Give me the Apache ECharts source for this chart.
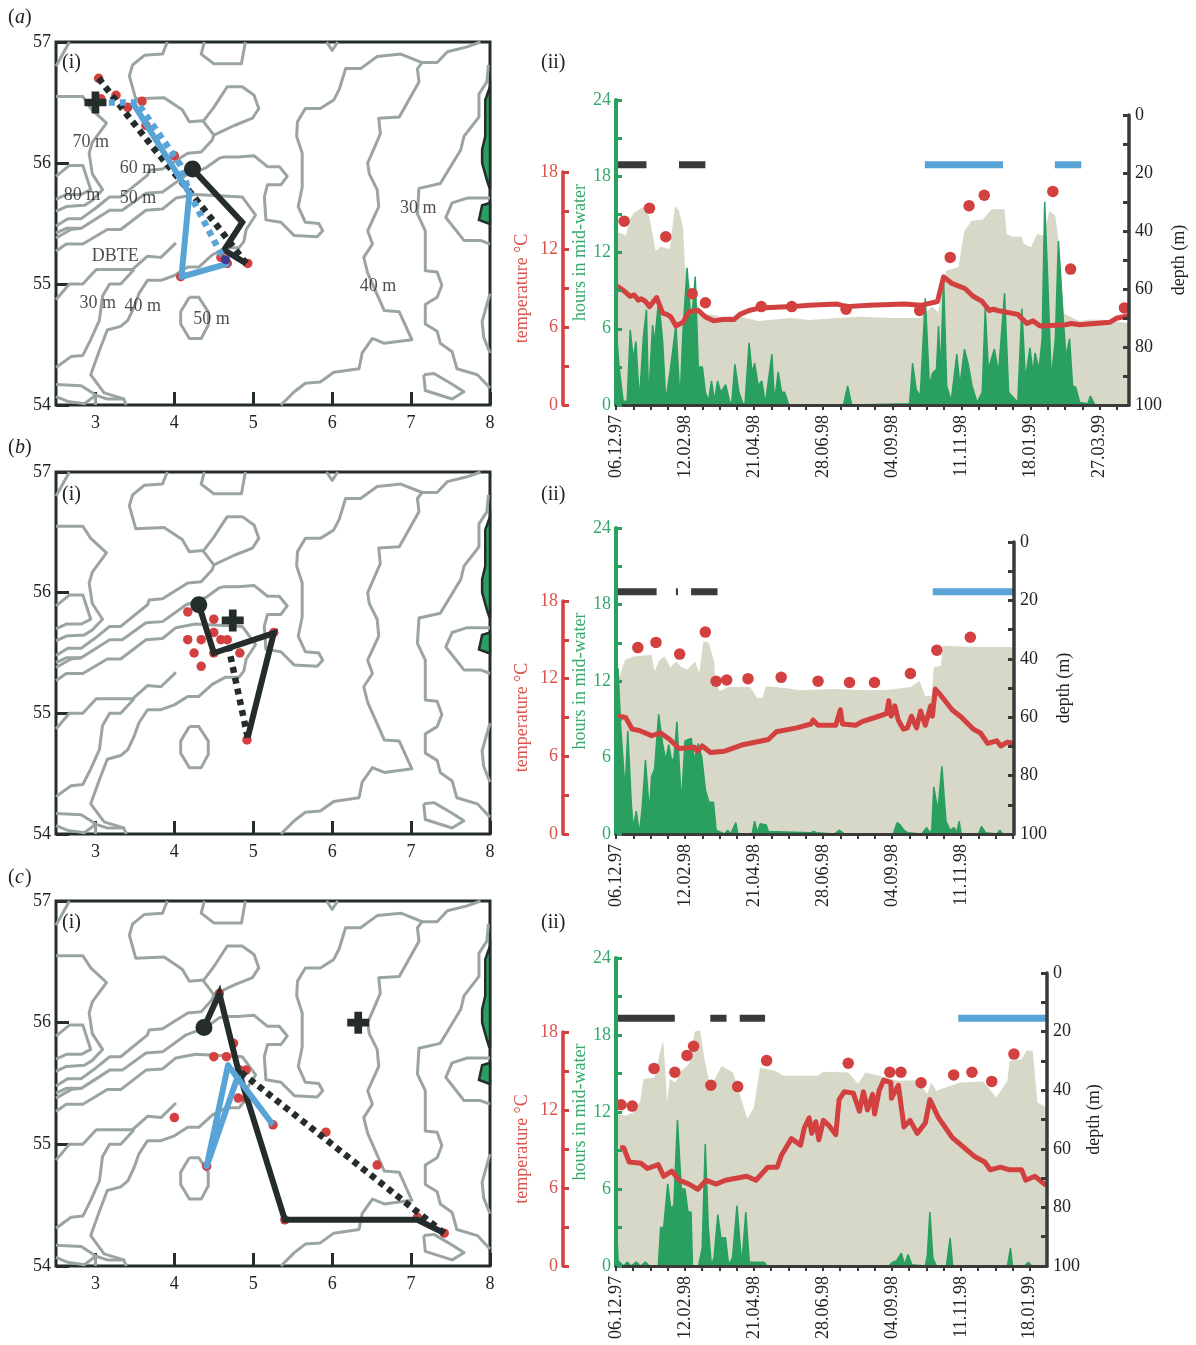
<!DOCTYPE html>
<html><head><meta charset="utf-8">
<style>html,body{margin:0;padding:0;background:#fff}#c{width:1196px;height:1345px}</style>
<script src="https://cdn.jsdelivr.net/npm/echarts@6/dist/echarts.min.js"></script>
</head><body><div id="c"></div>
<script>
// ---------- bathymetry contours [lon, lat] ----------
const cCorner=[[2.5,56.8],[2.67,57]];
const cA=[[2.5,55.89],[2.67,55.98],[2.84,55.98],[2.94,55.78],[2.82,55.74],[2.63,55.74],[2.5,55.7]];
const cB=[[2.5,56.55],[2.84,56.55],[2.94,56.45],[3.14,56.33],[2.96,56.17],[2.92,56.08],[2.96,55.91],[3.09,55.78],[2.96,55.69],[2.86,55.65],[2.63,55.64],[2.5,55.6]];
const cC=[[2.5,55.48],[2.65,55.54],[2.82,55.54],[3.01,55.63],[3.18,55.72],[3.32,55.72],[3.66,55.9],[3.68,55.94],[3.85,55.95],[4.17,56.08],[4.34,56.09],[4.48,56.19],[4.5,56.23],[4.36,56.35],[4.19,56.34],[4.1,56.44],[3.87,56.54],[3.51,56.53],[3.43,56.72],[3.47,56.81],[3.62,56.89],[3.85,56.9],[3.91,57]];
const cBlob=[[4.36,56.34],[4.5,56.46],[4.67,56.63],[4.86,56.63],[5.01,56.56],[5.07,56.45],[4.99,56.37],[4.76,56.31],[4.5,56.23]];
const cD=[[2.5,55.42],[2.63,55.46],[2.82,55.46],[3.18,55.61],[3.34,55.61],[3.64,55.75],[3.85,55.76],[4.15,55.9],[4.4,55.96],[4.57,56.04],[4.63,56.05],[4.8,56.05],[5.01,56.06],[5.18,55.97],[5.33,55.97],[5.43,55.89],[5.35,55.82],[5.18,55.82],[5.14,55.72],[5.16,55.53],[5.35,55.51],[5.52,55.4],[5.81,55.39],[5.88,55.44],[5.83,55.5],[5.66,55.51],[5.57,55.64],[5.62,55.8],[5.62,56.08],[5.55,56.22],[5.56,56.34],[5.66,56.45],[5.85,56.45],[6.02,56.52],[6.09,56.61],[6.17,56.78],[6.36,56.78],[6.57,56.88],[6.87,56.9],[7.14,56.83],[7.33,56.83],[7.46,56.92],[7.71,56.96],[7.88,57]];
const cE=[[2.5,55.38],[2.69,55.45],[2.82,55.46]];
const cF=[[2.5,55.27],[2.63,55.33],[2.84,55.33],[3.15,55.45],[3.32,55.45],[3.64,55.61],[3.85,55.62],[4.02,55.71],[4.27,55.74],[4.86,55.72],[5.03,55.57],[4.91,55.45],[4.88,55.35],[4.82,55.3],[4.65,55.3],[4.48,55.24],[4.31,55.14],[4.17,55.14],[4.0,55.07],[3.83,55.03],[3.66,55.03],[3.55,54.92],[3.49,54.81],[3.41,54.7],[3.32,54.65],[3.15,54.62],[3.05,54.45],[2.94,54.25],[3.11,54.1],[3.36,54.05],[3.39,54]];
const cG=[[4.02,55.34],[3.83,55.22],[3.66,55.23],[3.47,55.12],[3.01,55.12],[2.84,55],[2.67,55],[2.5,54.87]];
const cH=[[3.49,55.12],[3.32,55],[3.18,55],[3.09,54.9],[3.05,54.7],[2.94,54.54],[2.84,54.41],[2.69,54.4],[2.5,54.31]];
const cOval=[[4.19,54.89],[4.31,54.89],[4.43,54.77],[4.43,54.66],[4.34,54.55],[4.19,54.55],[4.08,54.67],[4.08,54.77],[4.19,54.89]];
const cTop=[[4.38,57],[4.34,56.9],[4.5,56.82],[4.85,56.82],[4.9,57]];
const cVee=[[5.93,57],[6,56.93],[6.07,57]];
const cR1=[[7.14,56.83],[7.08,56.78],[7.1,56.67],[6.85,56.38],[6.59,56.37],[6.61,56.24],[6.45,56],[6.47,55.91],[6.57,55.78],[6.59,55.64],[6.45,55.44],[6.51,55.33],[6.4,55.22],[6.45,55.09],[6.66,54.78],[6.85,54.77],[7.01,54.54],[6.66,54.51],[6.51,54.55],[6.38,54.43],[6.34,54.3],[6.02,54.27],[5.85,54.19],[5.66,54.18],[5.52,54.11],[5.35,54]];
const cR2=[[7.98,56.81],[7.96,56.67],[7.86,56.57],[7.86,56.38],[7.67,56.22],[7.63,56.11],[7.37,55.83],[7.1,55.79],[7.08,55.58],[7.18,55.44],[7.18,55.11],[7.33,55.1],[7.39,54.99],[7.33,54.89],[7.18,54.83],[7.18,54.67],[7.33,54.61],[7.37,54.51],[7.52,54.44],[7.58,54.3],[7.84,54.25],[8,54.14]];
const cR3=[[8,55.71],[7.71,55.71],[7.52,55.67],[7.44,55.55],[7.67,55.36],[7.88,55.36],[8,55.33]];
const cR4=[[8,54.92],[7.9,54.69],[7.92,54.56],[8,54.43]];
const cIsle=[[7.16,54.25],[7.29,54.26],[7.5,54.18],[7.67,54.11],[7.52,54.05],[7.18,54.12],[7.16,54.25]];
const cLow1=[[2.5,54.17],[2.82,54.16],[3.01,54.08],[3.15,54.05],[3.36,54.05]];
const cLow2=[[2.5,54.07],[2.65,54.03],[2.86,54.01],[3,54.08],[3,54]];
const contours=[cCorner,cA,cB,cC,cBlob,cD,cE,cF,cG,cH,cOval,cTop,cVee,cR1,cR2,cR3,cR4,cIsle,cLow1,cLow2];
const land1=[[8,56.63],[7.94,56.52],[7.94,56.22],[7.9,56.11],[7.9,56],[7.96,55.86],[7.99,55.8],[8,55.8]];
const land2=[[7.9,55.65],[7.86,55.53],[7.98,55.5],[8,55.5],[8,55.67]];
const depthLabels=[['70 m',2.94,56.17],['60 m',3.54,55.96],['80 m',2.83,55.73],['50 m',3.54,55.71],['DBTE',3.25,55.23],['30 m',3.03,54.84],['40 m',3.6,54.82],['50 m',4.47,54.71],['30 m',7.09,55.63],['40 m',6.58,54.98]];

// ---------- tracks [lon, lat] ----------
const aPos=[[3.04,56.7],[3.26,56.56],[3.07,56.53],[3.41,56.46],[3.59,56.51],[3.64,56.31],[4,56.06],[4.08,55.06],[4.67,55.17],[4.93,55.17],[4.59,55.22]];
const aBlackSolid=[[4.23,55.95],[4.86,55.51],[4.63,55.28],[4.91,55.17]];
const aBlackDash=[[3.04,56.7],[3.41,56.39],[3.79,56.08],[4.25,55.72],[4.52,55.5],[4.91,55.17]];
const aBlueSolid=[[3.47,56.5],[4.19,55.75],[4.09,55.06],[4.69,55.17]];
const aBlueDash=[[3.03,56.5],[3.53,56.5],[4.08,55.98],[4.19,55.75],[4.59,55.25],[4.66,55.2]];
const aCross=[3,56.5];
const bPos=[[4.17,55.84],[4.5,55.78],[4.5,55.67],[4.17,55.61],[4.34,55.61],[4.59,55.61],[4.67,55.61],[4.25,55.5],[4.5,55.5],[4.83,55.5],[4.34,55.39],[5.26,55.67],[4.92,54.78]];
const bBlackSolid=[[4.31,55.9],[4.5,55.5],[5.26,55.665],[4.93,54.8]];
const bBlackDash=[[4.93,54.8],[4.67,55.6]];
const bCross=[4.74,55.77];
const cPos=[[4.57,56.24],[4.75,55.83],[4.5,55.72],[4.66,55.72],[4.83,55.61],[4.91,55.61],[4.81,55.38],[4.91,55.38],[4,55.22],[5.92,55.1],[6.57,54.83],[5.25,55.16],[4.41,54.82],[5.4,54.38],[7.08,54.4],[7.42,54.27]];
const cBlackSolid=[[4.375,55.96],[4.57,56.24],[4.81,55.61],[5.4,54.38],[7.08,54.38],[7.42,54.27]];
const cBlackDash=[[7.42,54.27],[4.83,55.6]];
const cBlueSolid=[[5.25,55.16],[4.68,55.65],[4.41,54.82],[4.81,55.57]];
const cCross=[6.33,56];

// ---------- time series, [days since 06.12.97, value] ----------
const dateLabels=['06.12.97','12.02.98','21.04.98','28.06.98','04.09.98','11.11.98','18.01.99','27.03.99'];
const aDepth=[[0,42],[3,40.5],[10,41.6],[13,36.5],[18,33.6],[27,31.6],[33,35.3],[39,47],[44,45.4],[53,46.2],[58,31.4],[62,33],[66,38.8],[68,52.5],[75,61.6],[81,66],[88,68.4],[103,69.6],[120,69.3],[140,71],[173,70],[190,70.7],[218,70],[240,69.6],[271,70],[300,70],[311,66],[317,68],[325,53.6],[337,52.5],[343,40],[350,36.5],[361,36],[370,32.5],[382.5,32.5],[384.5,41],[390.5,42],[399.5,42],[401.5,44.5],[408.5,45.6],[414.5,41],[421.5,41.6],[426.5,33],[432.5,34.8],[436.5,45.6],[440.5,68.4],[449.5,70],[456.5,71],[466.5,70.5],[482.5,70.7],[505,71.8]];
const aTemp=[[1,9.2],[8,8.8],[14,8.4],[18,8.5],[22,8.1],[25,8.2],[29,8],[33,7.6],[40,8.3],[46,7.1],[50,7],[54,6.8],[59,6.1],[66,6.4],[72,7.2],[78,7.3],[81,7.3],[88,6.8],[96,6.5],[105,6.6],[116,6.6],[122,7],[131,7.3],[142,7.5],[173,7.6],[190,7.7],[218,7.8],[227,7.6],[249,7.7],[284,7.8],[300,7.7],[316.5,8],[322.5,9.9],[330.5,9.4],[343.5,9],[351.5,8.4],[360.5,8],[367.5,7.3],[371.5,7.4],[375.5,7.3],[395.5,7],[404.5,6.3],[410.5,6.5],[417.5,6.1],[442.5,6.2],[448.5,6.3],[456.5,6.2],[486.5,6.4],[492.5,6.7],[505,6.9]];
const aHours=[[0,6.2],[3,3],[7,.3],[11,.3],[14,5.9],[17,3.6],[19.6,5],[23,.3],[27,5.4],[30,7.5],[32,.3],[36,6.3],[38,4.9],[42,8.3],[46,4.9],[49,.3],[53,2.5],[59,6.3],[63,.3],[66,5.9],[70,10.8],[74,6.2],[78,10.1],[81,3],[85,3],[88,1],[91,.3],[94,1.9],[97,.3],[100,1.9],[103,1],[108,1.6],[112,.2],[114,.2],[117,3.2],[121,1],[125,.1],[127,.1],[131,4.9],[134,2.5],[136.5,3.3],[140,1.5],[143.5,1.9],[147,.1],[153.5,4],[156,.2],[159.6,2.6],[163,1],[166,1],[170,0],[224,0],[228,1.5],[232,0],[289,.1],[292,3.3],[295.5,1.2],[299.5,.7],[304.5,8.4],[308.5,1.5],[311.5,2.5],[315.5,2.8],[317.5,6.2],[319.5,2.5],[322.5,9.9],[325.5,1.5],[330,.3],[335.5,4],[338.5,1.5],[343,4.4],[346.5,3.3],[350.5,1.5],[355.5,.2],[360.5,1],[363.5,7.6],[366.5,2.8],[372.5,4.4],[376.5,2.5],[382.5,8.8],[386.5,1],[395.5,.2],[399.5,7.6],[403,2],[407.5,4.5],[410.5,2.5],[412.5,4.1],[416.5,2.8],[419.5,5.2],[422,16],[424.5,10.9],[428.5,2],[432.5,5.2],[435.5,12.9],[437.5,10.4],[440.5,6.5],[443,3.8],[446.5,5.2],[449.5,1.5],[452.5,1.4],[456.5,.2],[464.5,.1],[467,.7],[471.5,0],[505,0]];
const aDots=[[8,14.2],[33,15.2],[49,13],[75,8.6],[88,7.9],[143,7.6],[173,7.6],[226.5,7.4],[299,7.3],[329,11.4],[347.5,15.4],[362.5,16.2],[430,16.5],[447.5,10.5],[500.5,7.5]];
const aBlack=[[0,30],[62,88]];
const aBlue=[[304,381],[432,458]];

const bDepth=[[0,49],[3.5,46],[9,40.3],[17.6,39.2],[35,38.6],[38,44.3],[43,40.3],[48,39.2],[53.5,43],[59,40.9],[65,43],[70.4,43.7],[78,40.9],[82,44.9],[86,34],[91.5,34.6],[97,41.4],[97.5,47],[102,51],[111,49.7],[132,49.7],[139,53.4],[144,53.4],[148,49.4],[167,50],[180,50.8],[213,50.3],[248,50.8],[269,50.6],[290.5,49.7],[299,47.5],[304.6,52.9],[311,52.6],[313,43],[320,42.4],[322,35.5],[354,36],[389,36],[392,37]];
const bTemp=[[2,9.1],[9.5,9],[16,8.1],[23,8],[35,7.6],[44,7.8],[53,7.3],[62,6.6],[77.5,6.7],[80,6.4],[85,6.8],[93,6.3],[107,6.4],[125,6.9],[150,7.3],[158,7.9],[178,8.2],[192,8.5],[194,8.8],[199,8.4],[216.5,8.4],[221,9.6],[223,8.5],[236,8.4],[243,8.7],[255,9],[266.5,9.3],[268.7,10.3],[271,9.1],[274.6,9.9],[278,8.8],[283,8.1],[287,8.2],[291,9.1],[296,8.2],[300,9.5],[304.6,8.4],[310,9.9],[311.6,9.1],[314.5,11.2],[320,10.7],[331,9.6],[340.5,9],[352,8.1],[359,7.8],[366,7],[375,7.2],[379,6.8],[385.6,7.1],[392,7]];
const bHours=[[0,10],[2,13],[4.6,8.4],[9,3.4],[11.6,8.1],[15,2.4],[17,.5],[20,1.8],[23,0],[25.7,2],[29,5.8],[33,1.6],[35,4.5],[38,5.1],[42,9.4],[46,7],[49,5.8],[52,7],[54.6,5.8],[57,5.9],[60,8.8],[64.4,2.4],[68,7.3],[74,7.5],[77.5,5.8],[81,7.1],[84.5,6],[88,3.5],[91.5,2.5],[96,2.5],[98.6,.3],[107,0],[110,.3],[113,0],[118,.9],[120,0],[134,0],[136.6,1],[139,.1],[142,.8],[148,.7],[150,.2],[192,.1],[195,.2],[197,.1],[215,0],[220,.3],[225,0],[273,0],[277,.9],[280,.7],[283.5,.3],[287,.1],[301,0],[306,.5],[309,.1],[311,.3],[313,3.7],[317,1.8],[321,5.3],[325,1],[329,.3],[333,.5],[335.6,.1],[338,1],[340,0],[357,0],[360,.6],[364,.1],[375,0],[378,.3],[381,0],[392,0]];
const bDots=[[21.5,14.4],[39.4,14.8],[62.7,13.9],[88,15.6],[98.6,11.8],[109,11.9],[130,12],[162.7,12.1],[199,11.8],[230,11.7],[254.6,11.7],[290,12.4],[316,14.2],[349,15.2]];
const bBlack=[[0,40],[59,61],[74,100]];
const bBlue=[[312,392]];

const cDepth=[[0,48],[9.5,48.7],[17,47.6],[24,43.6],[27,36.2],[38,35.7],[43.6,26.6],[46.6,23],[49,35.7],[50.4,44.2],[53,36.2],[58.7,37.4],[64.4,33.4],[72,31.1],[77.7,20],[83,19.6],[87,28.9],[92.8,38.5],[98.5,35.7],[104,31.7],[115.5,34],[123,42.5],[129.5,49.8],[136,45.9],[142,32.3],[157,33.4],[165,35.1],[199,35.1],[204.5,33.7],[229,34],[238.6,37.9],[246,34],[259.5,35.1],[265,35.7],[278,36.8],[297,36.6],[307,41.3],[310.6,37.4],[316,40.2],[339,37.4],[362,37],[375,42.5],[386,36.8],[388,30],[400,29.4],[405,26.4],[411,26.6],[415.5,44.2],[425,45.9]];
const cTemp=[[4,9.1],[7.6,9.1],[13,8],[24.6,7.9],[31,7.5],[41.7,7.8],[47,6.9],[55,7.3],[62.5,6.6],[72,6.3],[80.7,5.9],[89,6.6],[98.5,6.3],[108,6.6],[128.8,6.9],[138,6.6],[149.6,7.6],[159,7.6],[163,8.5],[173,9.8],[182,9.3],[185.6,10.6],[190.5,11.4],[193,10.2],[197,11.1],[200,9.7],[204.5,11.2],[210,10.8],[216.7,10.1],[220,12.8],[225,13.4],[234,13.3],[240,11.9],[244,13.4],[248,12],[253,13.2],[255,11.7],[259.5,13.5],[264,14.3],[271,14.1],[271.6,12.9],[278.4,13.9],[284,10.7],[290,11.2],[297,10.2],[305,11],[309.5,12.8],[318,11.4],[331.4,9.9],[354,8.4],[363.6,8],[369,7.4],[379,7.6],[388,7.4],[400,7.4],[404,6.6],[413,6.9],[424,6.2]];
const cHours=[[0,4.3],[2,.4],[7.6,0],[11,.3],[15,0],[20,.3],[24,0],[29,.3],[33,0],[41.7,0],[44,3],[47,3],[51,6.4],[54,4.5],[57,4.7],[60.6,11.4],[64.4,6],[68,6],[71,4.2],[74,4.2],[75.4,0],[81.4,0],[85,1.4],[88,9.5],[91,3],[94,.1],[96.6,.6],[100.4,4],[103.4,2.2],[108,2.2],[111,.1],[114.8,.6],[119.3,4.7],[124,.1],[128,4.2],[131.4,.3],[146,.3],[149,0],[269,0],[272.7,.3],[276.5,.4],[281.4,1],[284.5,.1],[288,.9],[291.7,.1],[305,0],[307,.8],[309.5,4.2],[312.5,.6],[316,0],[325.8,0],[329.5,2.2],[332,0],[386,0],[389,1.4],[391,0],[403,0],[406.6,.3],[410,0],[425,0]];
const cDots=[[5,12.4],[16,12.3],[37.5,15.2],[58,14.9],[70,16.2],[76.5,16.9],[93.6,13.9],[120,13.8],[148.5,15.8],[229,15.6],[270,14.9],[281,14.9],[300.8,14.1],[333,14.7],[351,14.9],[370.5,14.2],[392.4,16.3]];
const cBlack=[[0,58],[93,109],[122,147]];
const cBlue=[[337.5,425]];

// ---------- style ----------
const FONT='"Liberation Serif","Times New Roman",serif';
const DARK='#252d2c', GREY='#9aa5a2', RED='#d2403f', REDT='#d9534f', GRN='#29a05f', GRNT='#35a86a', BLUE='#59a4d7', AXD='#3a3a3a', SAND='#d7d8c8';
const grid=[],xAxis=[],yAxis=[],series=[],graphic=[];

function addMap(top,bottom,o){
  const g=grid.length;
  grid.push({left:56,width:434,top:top,height:bottom-top,show:true,borderColor:DARK,borderWidth:3,backgroundColor:'transparent'});
  xAxis.push({gridIndex:g,type:'value',min:2.5,max:8,splitLine:{show:false},axisLine:{show:false},
    axisTick:{inside:true,length:13,lineStyle:{color:DARK,width:3},customValues:[3,4,5,6,7,8]},
    axisLabel:{customValues:[3,4,5,6,7,8],color:'#222',fontFamily:FONT,fontSize:18,margin:6,padding:[3,0,0,0]}});
  yAxis.push({gridIndex:g,type:'value',min:54,max:57,splitLine:{show:false},axisLine:{show:false},
    axisTick:{inside:true,length:13,lineStyle:{color:DARK,width:3},customValues:[54,55,56,57]},
    axisLabel:{customValues:[54,55,56,57],color:'#222',fontFamily:FONT,fontSize:18,margin:5,padding:[3,0,0,0]}});
  const base={xAxisIndex:g,yAxisIndex:g,silent:true,animation:false};
  contours.forEach(c=>series.push({...base,type:'line',data:c,showSymbol:false,z:1,lineStyle:{color:GREY,width:3,join:'round'}}));
  [land1,land2].forEach(poly=>series.push({...base,type:'custom',z:2,data:[0],renderItem:(p,api)=>({type:'polygon',shape:{points:poly.map(q=>api.coord(q))},style:{fill:GRN,stroke:DARK,lineWidth:2.5}})}));
  series.push({...base,type:'scatter',data:o.pos,symbolSize:9.5,z:3,itemStyle:{color:RED,opacity:1}});
  if(o.blackDash)series.push({...base,type:'line',data:o.blackDash,showSymbol:false,z:4,lineStyle:{color:DARK,width:6.5,type:[6,5]}});
  if(o.blueDash)series.push({...base,type:'line',data:o.blueDash,showSymbol:false,z:6,lineStyle:{color:BLUE,width:6.5,type:[6,5]}});
  series.push({...base,type:'line',data:o.blackSolid,showSymbol:false,z:5,lineStyle:{color:DARK,width:6,join:'miter'}});
  if(o.blueSolid)series.push({...base,type:'line',data:o.blueSolid,showSymbol:false,z:7,lineStyle:{color:BLUE,width:6,join:'round'}});
  series.push({...base,type:'scatter',data:[o.blackSolid[0]],symbolSize:17,z:8,itemStyle:{color:DARK,opacity:1}});
  series.push({...base,type:'scatter',data:[o.cross],symbol:'path://M6.5,0H13.5V6.5H20V13.5H13.5V20H6.5V13.5H0V6.5H6.5Z',symbolSize:22,z:8,itemStyle:{color:DARK,opacity:1}});
  if(o.labels)series.push({...base,type:'scatter',data:o.labels.map(l=>({name:l[0],value:[l[1],l[2]]})),symbol:'circle',symbolSize:1,z:9,itemStyle:{color:'rgba(0,0,0,0)'},
    label:{show:true,position:'inside',formatter:'{b}',color:'#222',fontFamily:FONT,fontSize:18}});
  if(o.endDot)series.push({...base,type:'scatter',data:[o.endDot],symbolSize:9,z:9,itemStyle:{color:'#3b3a96',opacity:1}});
}

function addPlot(o){
  const left=616,w=o.right-left,bottom=o.bottom;
  const mk=(top)=>{const g=grid.length;grid.push({left:left,width:w,top:top,height:bottom-top});return g;};
  const xa=(g,vis)=>{xAxis.push({gridIndex:g,type:'value',min:0,max:o.days,interval:17,show:vis,splitLine:{show:false},z:8,
     axisLine:{show:vis,lineStyle:{color:AXD,width:3},onZero:false},axisTick:{show:vis,length:5,lineStyle:{color:AXD,width:2}},
     axisLabel:{show:vis,rotate:90,margin:10,padding:[6,0,0,0],color:'#222',fontFamily:FONT,fontSize:18,showMinLabel:true,showMaxLabel:false,
       formatter:v=>(v%68===0?(dateLabels[v/68]||''):'')}});};
  const ylab=(c,m,f)=>({color:c,fontFamily:FONT,fontSize:18,margin:m,padding:[4,0,0,0],formatter:f});
  // depth
  const gd=mk(o.depthTop); xa(gd,true);
  yAxis.push({gridIndex:gd,type:'value',min:0,max:100,inverse:true,interval:10,position:'right',splitLine:{show:false},z:8,
    name:'depth (m)',nameLocation:'middle',nameRotate:90,nameGap:o.depthGap,nameTextStyle:{color:'#222',fontFamily:FONT,fontSize:18},
    axisLine:{show:true,onZero:false,lineStyle:{color:AXD,width:3.5}},axisTick:{inside:true,length:6,lineStyle:{color:AXD,width:3}},
    axisLabel:ylab('#222',6,v=>(v%20===0?String(v):''))});
  // hours
  const gh=mk(o.hoursTop); xa(gh,false);
  yAxis.push({gridIndex:gh,type:'value',min:0,max:24,interval:3,splitLine:{show:false},z:8,
    name:'hours in mid-water',nameLocation:'middle',nameRotate:90,nameGap:24,nameTextStyle:{color:GRNT,fontFamily:FONT,fontSize:18},
    axisLine:{show:true,onZero:false,lineStyle:{color:GRN,width:4}},axisTick:{inside:true,length:6,lineStyle:{color:GRN,width:3}},
    axisLabel:ylab(GRNT,5,v=>(v%6===0?String(v):''))});
  // temperature
  const gt=mk(o.tempTop); xa(gt,false);
  yAxis.push({gridIndex:gt,type:'value',min:0,max:18,interval:3,offset:53,splitLine:{show:false},z:8,
    name:'temperature \u00b0C',nameLocation:'middle',nameRotate:90,nameGap:32,nameTextStyle:{color:REDT,fontFamily:FONT,fontSize:18},
    axisLine:{show:true,onZero:false,lineStyle:{color:RED,width:3.5}},axisTick:{inside:true,length:6,lineStyle:{color:RED,width:3}},
    axisLabel:ylab(REDT,5,v=>(v%6===0?String(v):''))});
  const D={xAxisIndex:gd,yAxisIndex:gd,silent:true,animation:false},H={xAxisIndex:gh,yAxisIndex:gh,silent:true,animation:false},T={xAxisIndex:gt,yAxisIndex:gt,silent:true,animation:false};
  series.push({...D,type:'line',data:o.depth,showSymbol:false,z:1,lineStyle:{width:0},areaStyle:{color:SAND,opacity:1,origin:'end'}});
  series.push({...H,type:'line',data:o.hours,showSymbol:false,z:2,lineStyle:{color:GRN,width:1.5},areaStyle:{color:GRN,opacity:1,origin:'start'}});
  const seg=(a)=>{const r=[];a.forEach(s=>{r.push([s[0],o.barAt],[s[1],o.barAt],[s[1],null]);});return r;};
  series.push({...H,type:'line',data:seg(o.black),showSymbol:false,connectNulls:false,z:3,lineStyle:{color:'#3a3a3a',width:7,cap:'butt'}});
  series.push({...H,type:'line',data:seg(o.blue),showSymbol:false,connectNulls:false,z:3,lineStyle:{color:BLUE,width:7,cap:'butt'}});
  series.push({...T,type:'line',data:o.temp,showSymbol:false,z:4,lineStyle:{color:RED,width:5,join:'round'}});
  series.push({...T,type:'scatter',data:o.dots,symbolSize:11.5,z:5,itemStyle:{color:RED,opacity:1}});
}

addMap(42,405,{pos:aPos,blackSolid:aBlackSolid,blackDash:aBlackDash,blueSolid:aBlueSolid,blueDash:aBlueDash,cross:aCross,labels:depthLabels,endDot:[4.65,55.2]});
addMap(472,834,{pos:bPos,blackSolid:bBlackSolid,blackDash:bBlackDash,cross:bCross});
addMap(901,1266,{pos:cPos,blackSolid:cBlackSolid,blackDash:cBlackDash,blueSolid:cBlueSolid,cross:cCross});

addPlot({right:1129,bottom:405,days:505,hoursTop:100,tempTop:172,depthTop:115,depthGap:41,barAt:18.9,depth:aDepth,temp:aTemp,hours:aHours,dots:aDots,black:aBlack,blue:aBlue});
addPlot({right:1014,bottom:834,days:392,hoursTop:528,tempTop:601,depthTop:542,depthGap:41,barAt:19,depth:bDepth,temp:bTemp,hours:bHours,dots:bDots,black:bBlack,blue:bBlue});
addPlot({right:1047,bottom:1266,days:425,hoursTop:958,tempTop:1032,depthTop:973,depthGap:38,barAt:19.3,depth:cDepth,temp:cTemp,hours:cHours,dots:cDots,black:cBlack,blue:cBlue});

const T=(x,y,t,extra)=>graphic.push({type:'text',left:x,top:y,silent:true,z:20,style:Object.assign({text:t,fill:'#222',font:'20px '+FONT},extra||{})});
function panelTag(x,y,letter){
  graphic.push({type:'text',left:x,top:y,silent:true,z:20,style:{text:'(',fill:'#222',font:'20px '+FONT}});
  graphic.push({type:'text',left:x+7,top:y,silent:true,z:20,style:{text:letter,fill:'#222',font:'italic 20px '+FONT}});
  graphic.push({type:'text',left:x+17,top:y,silent:true,z:20,style:{text:')',fill:'#222',font:'20px '+FONT}});
}
panelTag(8,8,'a');panelTag(8,438,'b');panelTag(8,868,'c');
T(62,53,'(i)');T(62,485,'(i)');T(62,913,'(i)');
T(541,53,'(ii)');T(541,485,'(ii)');T(541,913,'(ii)');

const chart=echarts.init(document.getElementById('c'),null,{renderer:'canvas',width:1196,height:1345});
chart.setOption({animation:false,backgroundColor:'#fff',grid,xAxis,yAxis,series,graphic});
</script></body></html>
